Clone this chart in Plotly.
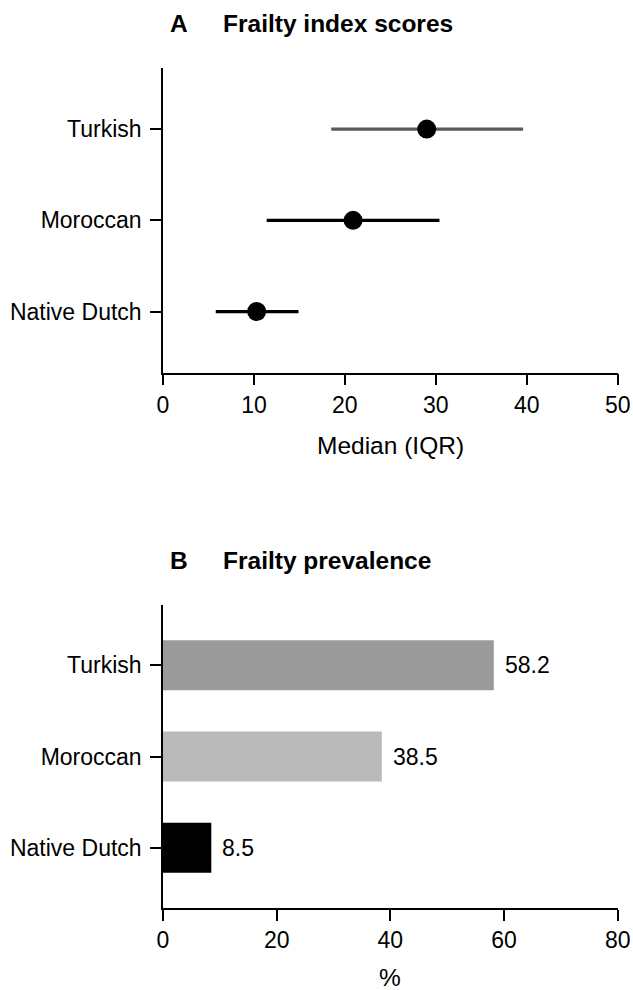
import plotly.graph_objects as go

# ---- Data ----
groups = ["Native Dutch", "Moroccan", "Turkish"]
fi_median = [10.3, 20.9, 29.0]
fi_q1 = [5.8, 11.4, 18.5]
fi_q3 = [14.9, 30.4, 39.6]
line_colors = ["#000000", "#000000", "#5a5a5a"]

prevalence = [8.5, 38.5, 58.2]
bar_colors = ["#000000", "#bababa", "#9a9a9a"]

xticks_a = [0, 10, 20, 30, 40, 50]
xticks_b = [0, 20, 40, 60, 80]

FONT = "Liberation Sans, Arial, sans-serif"
W, H = 633, 990

fig = go.Figure()

# Panel A: median with IQR
for g, m, lo, hi, c in zip(groups, fi_median, fi_q1, fi_q3, line_colors):
    fig.add_trace(go.Scatter(
        x=[m], y=[g], mode="markers",
        marker=dict(size=19, color="#000000"),
        error_x=dict(type="data", symmetric=False,
                     array=[hi - m], arrayminus=[m - lo],
                     color=c, thickness=3.2, width=0),
        xaxis="x", yaxis="y", showlegend=False, cliponaxis=False))

# Panel B: prevalence bars
fig.add_trace(go.Bar(
    x=prevalence, y=groups, orientation="h",
    marker=dict(color=bar_colors, line=dict(width=0)),
    width=0.55, xaxis="x2", yaxis="y2", showlegend=False))

annotations = []
for g, v in zip(groups, prevalence):
    annotations.append(dict(x=v, y=g, xref="x2", yref="y2", text=f"{v:.1f}",
                            showarrow=False, xanchor="left", yanchor="middle",
                            xshift=9, font=dict(size=23, color="#000000", family=FONT)))

def py(px):
    return (H - px) / H

# Titles
for letter, title, ypx in [("A", "Frailty index scores", 23.5), ("B", "Frailty prevalence", 560)]:
    annotations.append(dict(x=168 / W, y=py(ypx), xref="paper", yref="paper", text=f"<b>{letter}</b>",
                            showarrow=False, xanchor="left", yanchor="middle",
                            font=dict(size=24.5, color="#000000", family=FONT)))
    annotations.append(dict(x=221 / W, y=py(ypx), xref="paper", yref="paper", text=f"<b>{title}</b>",
                            showarrow=False, xanchor="left", yanchor="middle",
                            font=dict(size=24.5, color="#000000", family=FONT)))

# Axis titles
annotations.append(dict(x=390 / W, y=py(445), xref="paper", yref="paper", text="Median (IQR)",
                        showarrow=False, xanchor="center", yanchor="middle",
                        font=dict(size=24.5, color="#000000", family=FONT)))
annotations.append(dict(x=390 / W, y=py(977), xref="paper", yref="paper", text="%",
                        showarrow=False, xanchor="center", yanchor="middle",
                        font=dict(size=24.5, color="#000000", family=FONT)))

xdom = [163 / W, 617.7 / W]
axis_common = dict(showgrid=False, zeroline=False, showline=True, linecolor="#000000",
                   linewidth=1.5, ticks="outside", ticklen=11, tickwidth=1.5, tickcolor="#000000",
                   automargin=False,
                   tickfont=dict(size=23, color="#000000", family=FONT))

fig.update_layout(
    width=W, height=H, autosize=False,
    margin=dict(l=0, r=0, t=0, b=0),
    paper_bgcolor="white", plot_bgcolor="white",
    font=dict(family=FONT, color="#000000"),
    xaxis=dict(domain=xdom, range=[0, 50], tickvals=xticks_a, anchor="y", **axis_common),
    yaxis=dict(domain=[py(372.7), py(68)], range=[-0.67, 2.67], type="category",
               categoryorder="array", categoryarray=groups, anchor="x",
               ticklabelstandoff=4, **axis_common),
    xaxis2=dict(domain=xdom, range=[0, 80], tickvals=xticks_b, anchor="y2", **axis_common),
    yaxis2=dict(domain=[py(908), py(605)], range=[-0.66, 2.66], type="category",
                categoryorder="array", categoryarray=groups, anchor="x2",
                ticklabelstandoff=4, **axis_common),
    annotations=annotations,
)

fig.write_html("out.html",
               config={"responsive": False, "displayModeBar": False},
               post_script="document.body.style.margin='0';document.body.style.overflow='hidden';")
